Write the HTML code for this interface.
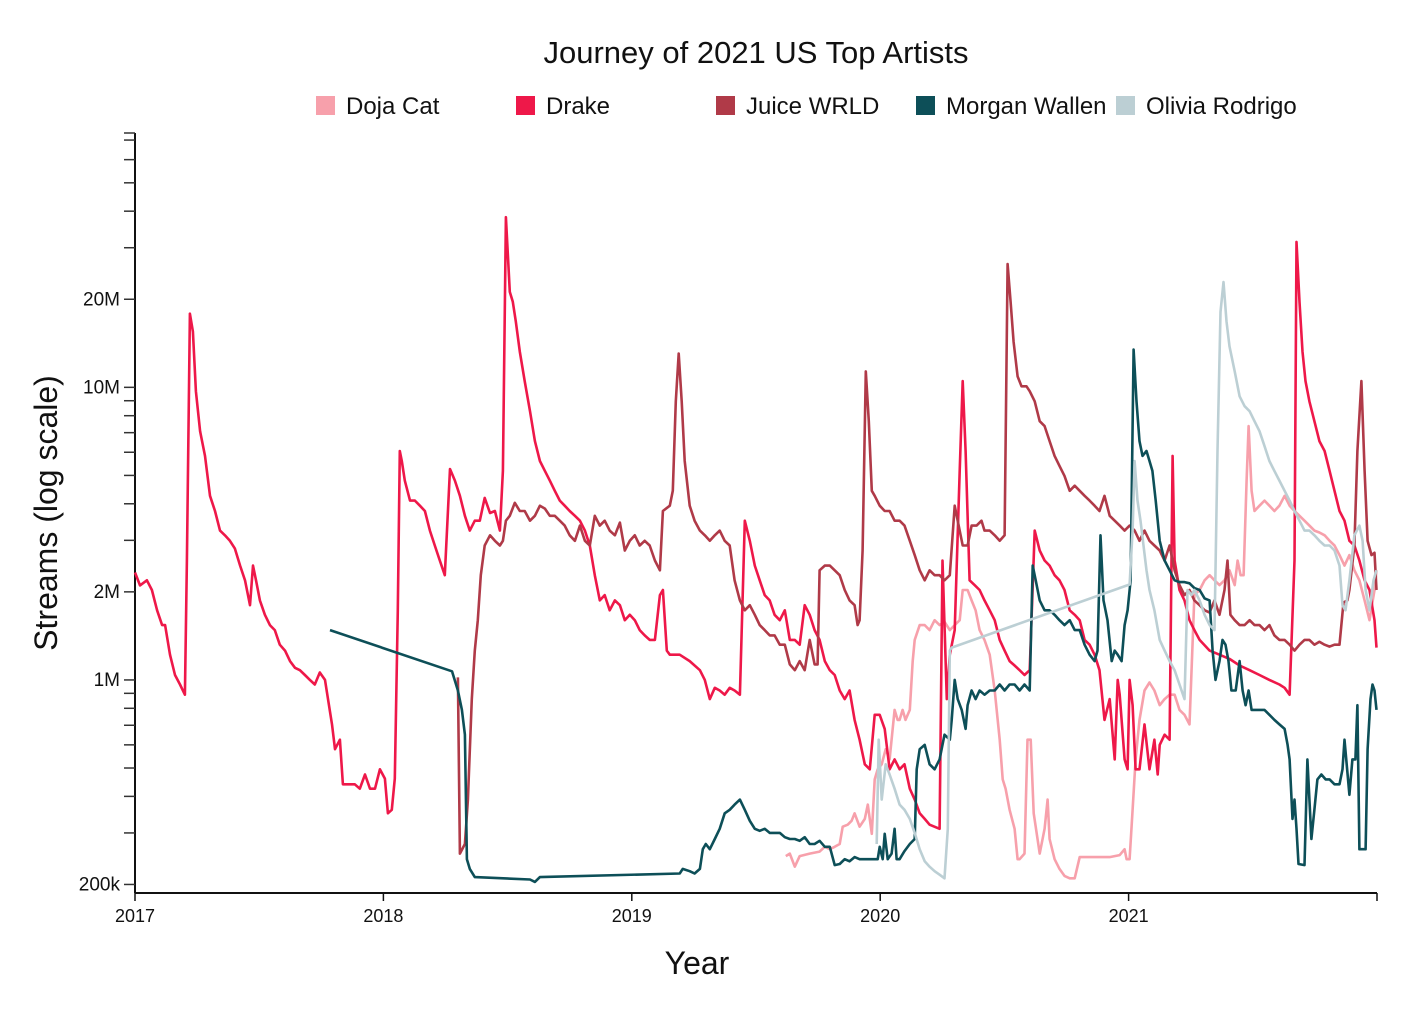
<!DOCTYPE html>
<html><head><meta charset="utf-8"><style>
body{margin:0;background:#fff;font-family:"Liberation Sans",sans-serif}
svg text{font-family:"Liberation Sans",sans-serif;fill:#111}
</style></head><body>
<svg id="chart" width="1422" height="1010">
<text x="756" y="63" font-size="31" text-anchor="middle">Journey of 2021 US Top Artists</text>
<g id="legend"></g>
<g id="axes"></g>
<g id="lines"></g>
<text x="697" y="974" font-size="32" text-anchor="middle">Year</text>
<text transform="translate(57,513) rotate(-90)" font-size="32" text-anchor="middle">Streams (log scale)</text>
</svg>
<script>
const yearTicks=[2017,2018,2019,2020,2021];
const yLabelTicks=[200,1000,2000,10000,20000];
const yLabelText=["200k","1M","2M","10M","20M"];
const artists=["Doja Cat","Drake","Juice WRLD","Morgan Wallen","Olivia Rodrigo"];
const colors=["#f7a0ab","#ee1849","#b03a48","#0d4f58","#bccfd4"];

const drakeX=[2017.000,2017.020,2017.048,2017.068,2017.089,2017.109,2017.121,2017.141,2017.161,2017.181,2017.201,2017.209,2017.221,2017.233,2017.245,2017.262,2017.282,2017.302,2017.322,2017.342,2017.362,2017.382,2017.402,2017.423,2017.443,2017.463,2017.475,2017.487,2017.503,2017.523,2017.543,2017.563,2017.583,2017.604,2017.624,2017.644,2017.664,2017.684,2017.704,2017.724,2017.744,2017.765,2017.777,2017.793,2017.805,2017.825,2017.837,2017.865,2017.885,2017.905,2017.926,2017.946,2017.966,2017.986,2018.006,2018.018,2018.034,2018.046,2018.058,2018.066,2018.074,2018.086,2018.107,2018.127,2018.147,2018.167,2018.187,2018.207,2018.227,2018.247,2018.268,2018.288,2018.308,2018.328,2018.348,2018.368,2018.388,2018.408,2018.429,2018.449,2018.469,2018.481,2018.493,2018.509,2018.521,2018.533,2018.549,2018.569,2018.590,2018.610,2018.630,2018.650,2018.670,2018.690,2018.710,2018.730,2018.750,2018.771,2018.791,2018.811,2018.831,2018.851,2018.871,2018.891,2018.911,2018.932,2018.952,2018.972,2018.992,2019.012,2019.032,2019.052,2019.072,2019.093,2019.113,2019.125,2019.141,2019.153,2019.193,2019.233,2019.274,2019.294,2019.314,2019.334,2019.354,2019.374,2019.394,2019.414,2019.435,2019.455,2019.475,2019.495,2019.515,2019.535,2019.555,2019.575,2019.596,2019.616,2019.636,2019.656,2019.676,2019.696,2019.716,2019.736,2019.756,2019.777,2019.797,2019.817,2019.837,2019.857,2019.877,2019.897,2019.917,2019.938,2019.958,2019.978,2019.998,2020.018,2020.038,2020.058,2020.078,2020.098,2020.119,2020.139,2020.159,2020.179,2020.199,2020.239,2020.251,2020.268,2020.280,2020.300,2020.320,2020.332,2020.344,2020.360,2020.380,2020.400,2020.420,2020.441,2020.461,2020.481,2020.501,2020.521,2020.541,2020.561,2020.581,2020.602,2020.622,2020.642,2020.662,2020.682,2020.702,2020.722,2020.742,2020.763,2020.783,2020.803,2020.823,2020.843,2020.863,2020.883,2020.903,2020.924,2020.944,2020.956,2020.964,2020.984,2020.996,2021.004,2021.016,2021.028,2021.044,2021.064,2021.084,2021.104,2021.117,2021.125,2021.145,2021.165,2021.177,2021.185,2021.205,2021.225,2021.245,2021.265,2021.286,2021.326,2021.366,2021.406,2021.447,2021.487,2021.527,2021.567,2021.607,2021.628,2021.648,2021.668,2021.676,2021.688,2021.700,2021.712,2021.728,2021.748,2021.768,2021.789,2021.809,2021.829,2021.849,2021.869,2021.889,2021.909,2021.929,2021.950,2021.970,2021.990,2021.998];
const drakeV=[2330,2105,2190,2030,1730,1540,1540,1220,1040,965,890,2560,17850,15500,9700,7080,5830,4260,3780,3240,3120,2990,2810,2460,2190,1800,2460,2190,1870,1670,1540,1480,1320,1260,1160,1100,1080,1040,1000,965,1060,1000,860,705,580,625,440,440,440,425,475,425,425,495,460,350,360,460,1730,6060,5600,4800,4100,4100,3940,3780,3240,2880,2560,2280,5260,4800,4260,3640,3240,3500,3500,4190,3720,3780,3240,5180,38150,21200,19600,16800,13250,10500,8290,6550,5600,5180,4800,4430,4100,3940,3780,3640,3500,3240,2880,2280,1870,1950,1730,1870,1800,1600,1670,1600,1480,1420,1370,1370,1950,2030,1260,1220,1220,1160,1080,1000,860,940,920,890,940,920,890,3500,2990,2460,2190,1950,1870,1670,1600,1730,1370,1370,1320,1800,1670,1480,1370,1160,1080,1040,920,860,920,730,625,515,495,760,760,680,495,535,495,515,425,390,350,335,320,310,2560,860,1220,1480,5180,10500,6060,2190,2110,2030,1870,1730,1600,1370,1260,1160,1120,1080,1040,1080,3240,2770,2560,2460,2280,2190,2030,1730,1670,1600,1370,1320,1220,1080,730,860,535,1000,890,535,495,1000,820,495,495,705,495,625,475,600,650,625,5830,2560,2030,1870,1600,1480,1370,1260,1220,1180,1120,1080,1040,1000,965,940,890,2560,31400,19600,13250,10500,8960,7660,6550,6060,5180,4430,3780,3500,2990,2880,2560,2190,2030,1600,1290];

const juiceX=[2018.300,2018.308,2018.328,2018.340,2018.356,2018.368,2018.380,2018.392,2018.408,2018.429,2018.449,2018.469,2018.481,2018.493,2018.509,2018.529,2018.549,2018.569,2018.590,2018.610,2018.630,2018.650,2018.670,2018.690,2018.710,2018.730,2018.750,2018.771,2018.791,2018.811,2018.831,2018.851,2018.871,2018.891,2018.911,2018.932,2018.952,2018.972,2018.992,2019.012,2019.032,2019.052,2019.072,2019.093,2019.113,2019.125,2019.153,2019.165,2019.177,2019.189,2019.201,2019.213,2019.233,2019.253,2019.274,2019.294,2019.314,2019.334,2019.354,2019.374,2019.394,2019.414,2019.435,2019.455,2019.475,2019.495,2019.515,2019.535,2019.555,2019.575,2019.596,2019.616,2019.636,2019.656,2019.676,2019.696,2019.716,2019.736,2019.748,2019.756,2019.777,2019.797,2019.817,2019.837,2019.857,2019.877,2019.897,2019.909,2019.917,2019.929,2019.942,2019.954,2019.966,2019.978,2019.998,2020.018,2020.038,2020.058,2020.078,2020.098,2020.119,2020.139,2020.159,2020.179,2020.199,2020.219,2020.239,2020.259,2020.280,2020.300,2020.312,2020.332,2020.352,2020.368,2020.388,2020.408,2020.420,2020.441,2020.461,2020.481,2020.501,2020.513,2020.525,2020.537,2020.553,2020.569,2020.589,2020.602,2020.622,2020.642,2020.662,2020.682,2020.702,2020.722,2020.742,2020.763,2020.783,2020.803,2020.823,2020.843,2020.863,2020.883,2020.903,2020.924,2020.944,2020.964,2020.984,2021.004,2021.024,2021.044,2021.064,2021.084,2021.104,2021.125,2021.145,2021.165,2021.185,2021.205,2021.225,2021.245,2021.265,2021.286,2021.306,2021.326,2021.346,2021.366,2021.386,2021.398,2021.410,2021.427,2021.447,2021.467,2021.487,2021.507,2021.527,2021.547,2021.567,2021.587,2021.607,2021.628,2021.648,2021.668,2021.688,2021.708,2021.728,2021.748,2021.768,2021.789,2021.809,2021.829,2021.849,2021.865,2021.881,2021.889,2021.909,2021.921,2021.937,2021.950,2021.962,2021.978,2021.990,2021.998];
const juiceV=[1020,255,275,390,860,1260,1600,2280,2880,3120,2990,2880,2990,3500,3640,4030,3780,3780,3500,3640,3940,3850,3640,3640,3500,3370,3120,2990,3370,2990,2880,3640,3370,3500,3240,3120,3450,2770,2990,3120,2880,2990,2880,2560,2370,3780,3940,4430,8960,13050,8960,5600,3940,3500,3240,3120,2990,3120,3240,2990,2880,2190,1870,1730,1800,1670,1540,1480,1420,1420,1320,1320,1130,1080,1160,1080,1370,1130,1130,2370,2460,2460,2370,2280,2030,1870,1800,1540,1600,2770,11340,7660,4430,4260,3940,3780,3780,3500,3500,3370,2990,2670,2370,2190,2370,2280,2280,2190,2280,3940,3500,2880,2880,3370,3370,3500,3240,3240,3120,2990,3120,26400,19600,14300,10900,10080,10080,9700,8960,7660,7370,6550,5830,5390,4980,4430,4610,4430,4260,4100,3940,3780,4260,3640,3500,3370,3240,3370,3240,2990,3240,2990,2880,2770,2560,2880,2370,2110,1950,2030,1870,1800,1730,1700,1870,1670,2030,2560,1670,1600,1540,1540,1600,1540,1540,1480,1540,1420,1370,1370,1320,1260,1320,1370,1370,1320,1350,1320,1300,1320,1320,1840,1870,2030,2880,6060,10500,5180,2990,2670,2720,2030];

const morganX=[2017.785,2018.276,2018.300,2018.316,2018.328,2018.336,2018.348,2018.368,2018.590,2018.610,2018.630,2019.193,2019.205,2019.233,2019.253,2019.274,2019.286,2019.298,2019.314,2019.334,2019.354,2019.374,2019.394,2019.414,2019.435,2019.455,2019.475,2019.495,2019.515,2019.535,2019.555,2019.575,2019.596,2019.616,2019.636,2019.656,2019.676,2019.696,2019.716,2019.736,2019.756,2019.777,2019.797,2019.817,2019.837,2019.857,2019.877,2019.897,2019.917,2019.958,2019.990,2019.998,2020.010,2020.018,2020.030,2020.046,2020.058,2020.066,2020.078,2020.098,2020.119,2020.139,2020.147,2020.159,2020.179,2020.199,2020.219,2020.239,2020.259,2020.280,2020.288,2020.300,2020.312,2020.328,2020.344,2020.352,2020.368,2020.384,2020.400,2020.420,2020.441,2020.461,2020.481,2020.501,2020.521,2020.541,2020.561,2020.581,2020.602,2020.614,2020.626,2020.642,2020.662,2020.682,2020.702,2020.722,2020.742,2020.763,2020.783,2020.803,2020.823,2020.843,2020.863,2020.875,2020.887,2020.899,2020.915,2020.932,2020.944,2020.956,2020.972,2020.984,2020.996,2021.008,2021.020,2021.032,2021.044,2021.056,2021.072,2021.084,2021.096,2021.109,2021.125,2021.145,2021.165,2021.185,2021.205,2021.225,2021.245,2021.265,2021.286,2021.306,2021.326,2021.338,2021.350,2021.366,2021.378,2021.390,2021.402,2021.414,2021.431,2021.447,2021.459,2021.471,2021.483,2021.495,2021.511,2021.527,2021.547,2021.567,2021.587,2021.607,2021.628,2021.640,2021.648,2021.660,2021.668,2021.676,2021.684,2021.708,2021.720,2021.736,2021.748,2021.760,2021.776,2021.793,2021.809,2021.829,2021.849,2021.861,2021.869,2021.889,2021.901,2021.913,2021.921,2021.929,2021.954,2021.962,2021.974,2021.982,2021.990,2021.998];
const morganV=[1480,1070,920,790,650,244,226,212,208,204,212,218,226,222,218,226,264,275,264,286,310,350,360,375,390,360,330,310,305,310,300,300,300,290,286,286,282,290,275,275,282,269,269,233,235,244,240,248,244,244,244,269,244,298,244,255,310,244,244,260,275,286,495,580,600,515,495,535,650,625,730,1000,860,790,680,820,920,860,920,890,920,920,965,920,965,965,920,965,920,2460,2190,1870,1730,1730,1670,1600,1540,1600,1480,1480,1320,1220,1160,1260,3120,1870,1600,1160,1260,1220,1160,1540,1730,2190,13460,8960,6550,5830,6060,5600,5180,4100,2990,2560,2370,2190,2160,2160,2140,2060,2030,1900,1870,1260,1000,1160,1370,1320,1160,920,920,1160,920,820,920,790,790,790,790,760,730,705,680,600,535,335,390,310,235,233,535,286,360,457,475,457,457,440,440,495,625,405,535,535,820,264,264,580,860,965,920,790];

const oliviaX=[2019.986,2019.994,2020.006,2020.022,2020.038,2020.058,2020.078,2020.098,2020.119,2020.139,2020.159,2020.179,2020.199,2020.219,2020.239,2020.259,2020.272,2020.280,2020.288,2021.004,2021.016,2021.024,2021.036,2021.048,2021.060,2021.072,2021.084,2021.104,2021.125,2021.145,2021.165,2021.185,2021.205,2021.225,2021.237,2021.253,2021.265,2021.286,2021.306,2021.326,2021.346,2021.358,2021.370,2021.382,2021.394,2021.406,2021.427,2021.447,2021.467,2021.487,2021.507,2021.527,2021.547,2021.567,2021.587,2021.607,2021.628,2021.648,2021.668,2021.688,2021.708,2021.728,2021.748,2021.768,2021.789,2021.809,2021.829,2021.849,2021.861,2021.873,2021.889,2021.909,2021.929,2021.942,2021.954,2021.970,2021.986,2021.998];
const oliviaV=[275,625,390,515,475,425,375,360,335,300,264,240,230,222,216,210,310,1260,1290,2120,3240,5600,4100,3500,2880,2370,2030,1730,1370,1260,1160,1080,965,860,2030,1950,2030,1870,1670,1540,1480,6060,18100,22900,16800,13800,11340,9320,8620,8290,7660,7080,6300,5600,5180,4800,4430,4100,3780,3500,3240,3240,3120,2990,2880,2880,2770,2460,1800,1730,2190,3120,3370,2990,2030,1730,2190,2370];

const dojaX=[2019.620,2019.636,2019.656,2019.676,2019.716,2019.756,2019.777,2019.797,2019.817,2019.837,2019.849,2019.869,2019.885,2019.897,2019.917,2019.938,2019.950,2019.966,2019.978,2019.990,2020.006,2020.022,2020.038,2020.058,2020.070,2020.078,2020.090,2020.102,2020.119,2020.131,2020.139,2020.159,2020.179,2020.199,2020.219,2020.239,2020.259,2020.280,2020.300,2020.320,2020.332,2020.352,2020.368,2020.384,2020.400,2020.420,2020.441,2020.461,2020.481,2020.493,2020.505,2020.521,2020.541,2020.553,2020.561,2020.581,2020.593,2020.606,2020.618,2020.642,2020.662,2020.674,2020.682,2020.702,2020.722,2020.742,2020.763,2020.783,2020.803,2020.843,2020.883,2020.924,2020.964,2020.984,2020.992,2021.004,2021.016,2021.028,2021.044,2021.064,2021.084,2021.104,2021.125,2021.145,2021.165,2021.185,2021.205,2021.225,2021.245,2021.265,2021.286,2021.306,2021.326,2021.346,2021.366,2021.386,2021.406,2021.427,2021.439,2021.451,2021.463,2021.475,2021.483,2021.495,2021.507,2021.527,2021.547,2021.567,2021.587,2021.607,2021.628,2021.648,2021.668,2021.688,2021.708,2021.728,2021.748,2021.768,2021.789,2021.809,2021.829,2021.849,2021.869,2021.889,2021.909,2021.929,2021.950,2021.970,2021.990,2021.998];
const dojaV=[250,255,230,250,255,259,269,264,269,275,315,320,330,350,315,335,375,298,457,495,515,580,535,790,730,730,790,730,790,1160,1370,1540,1540,1480,1600,1540,1580,1480,1540,1600,2030,2030,1870,1730,1480,1370,1220,920,625,457,425,360,310,244,244,255,625,625,350,255,310,390,286,244,226,214,210,210,248,248,248,248,252,264,244,244,360,535,730,920,980,920,820,860,890,890,790,760,705,1950,2030,2190,2280,2190,2110,2190,2370,2110,2560,2280,2280,4800,7370,4430,3780,3940,4100,3940,3780,3940,4260,3940,3780,3640,3500,3370,3240,3190,3120,2990,2880,2670,2460,2670,2370,2190,1870,1600,2030,2370];

const seriesX=[dojaX,drakeX,juiceX,morganX,oliviaX];
const seriesV=[dojaV,drakeV,juiceV,morganV,oliviaV];

const NS="http://www.w3.org/2000/svg";
const X0=135,X1=1377,Y0=893,Y1=133;
const xScale=y=>X0+(y-2017)*(X1-X0)/5;
const logMin=Math.log10(187),logMax=Math.log10(74000);
const yScale=v=>Y0-(Math.log10(v)-logMin)/(logMax-logMin)*(Y0-Y1);
function mk(tag,attrs,parent){const e=document.createElementNS(NS,tag);for(const k in attrs)e.setAttribute(k,attrs[k]);parent.appendChild(e);return e;}

const axes=document.getElementById('axes');
let a=mk('line',{x1:X0,y1:Y1,x2:X0,y2:Y0,stroke:'#111','stroke-width':2},axes);

a=mk('line',{x1:X0,y1:Y0,x2:X1,y2:Y0,stroke:'#111','stroke-width':2},axes);

yearTicks.concat([2022]).forEach(yr=>{
  const x=xScale(yr);
  const t=mk('line',{x1:x,y1:Y0,x2:x,y2:Y0+8,stroke:'#111','stroke-width':1.5},axes);
  
  if(yr<2022){const l=mk('text',{x:x,y:Y0+29,'font-size':18,'text-anchor':'middle'},axes);l.textContent=yr;
  }
});
[100,1000,10000].forEach(dec=>{for(let m=1;m<=9;m++){const v=dec*m;if(v<187||v>74000)continue;
  const y=yScale(v);
  const t=mk('line',{x1:X0-11,y1:y,x2:X0,y2:y,stroke:'#333','stroke-width':1.5},axes);
  }});
mk('line',{x1:X0-11,y1:Y1,x2:X0,y2:Y1,stroke:'#333','stroke-width':1.5},axes);
yLabelTicks.forEach((v,i)=>{const l=mk('text',{x:X0-15,y:yScale(v)+6,'font-size':19,'text-anchor':'end'},axes);
  l.textContent=yLabelText[i];});

const lg=document.getElementById('legend');
artists.forEach((n,i)=>{
  const x=316+i*200;
  const r=mk('rect',{x:x,y:96,width:19,height:19,fill:colors[i]},lg);
  
  const t=mk('text',{x:x+30,y:114,'font-size':24},lg);t.textContent=n;
  
});

const lines=document.getElementById('lines');
seriesX.forEach((xs,i)=>{
  const vs=seriesV[i];
  const d=xs.map((x,j)=>(j?'L':'M')+xScale(x).toFixed(1)+','+yScale(vs[j]).toFixed(1)).join('');
  const p=mk('path',{d:d,fill:'none',stroke:colors[i],'stroke-width':2.6,'stroke-linejoin':'round'},lines);
  
  
});
</script>
</body></html>
